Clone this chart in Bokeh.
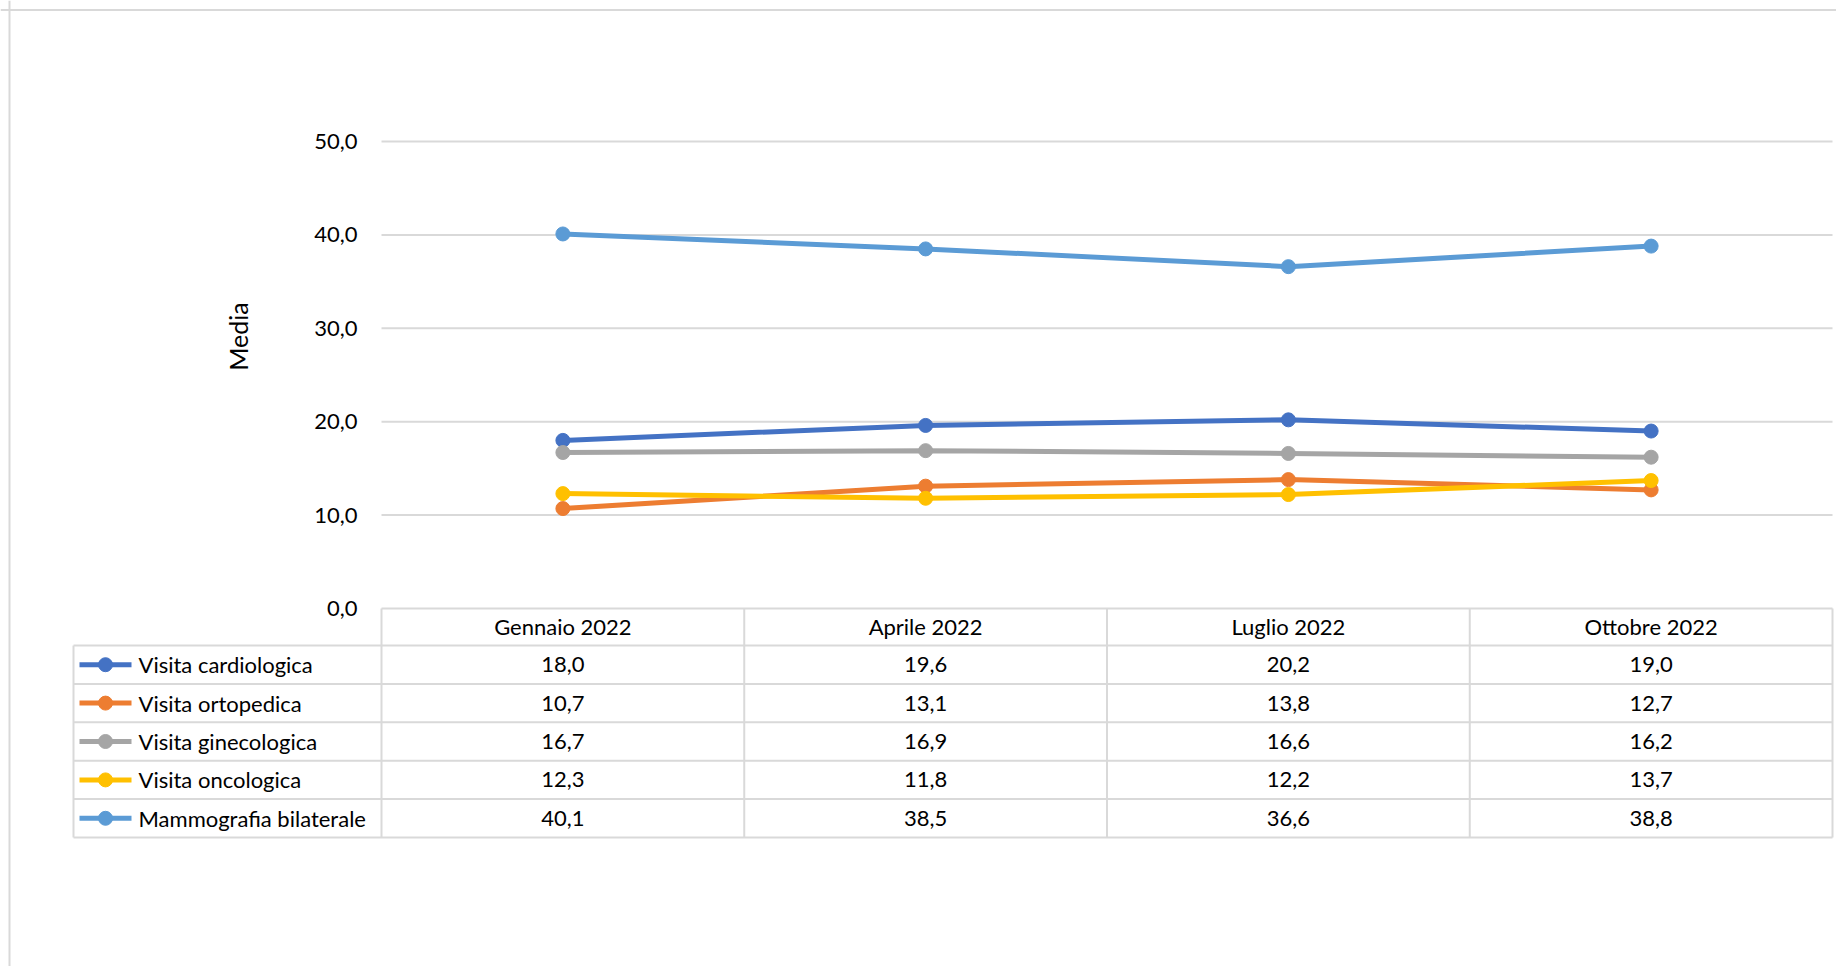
from bokeh.plotting import figure
from bokeh.models import Range1d, FixedTicker, LinearAxis, Span, ColumnDataSource
from bokeh.core.properties import value
from bokeh.embed import file_html
from bokeh.resources import INLINE

# ---------------- data ----------------
categories = ["Gennaio 2022", "Aprile 2022", "Luglio 2022", "Ottobre 2022"]
series_names = ["Visita cardiologica", "Visita ortopedica", "Visita ginecologica",
                "Visita oncologica", "Mammografia bilaterale"]
cardiologica = [18.0, 19.6, 20.2, 19.0]
ortopedica = [10.7, 13.1, 13.8, 12.7]
ginecologica = [16.7, 16.9, 16.6, 16.2]
oncologica = [12.3, 11.8, 12.2, 13.7]
mammografia = [40.1, 38.5, 36.6, 38.8]
y_ticks = [0, 10, 20, 30, 40, 50]
y_tick_labels = ["0,0", "10,0", "20,0", "30,0", "40,0", "50,0"]
y_axis_title = "Media"

series_values = [cardiologica, ortopedica, ginecologica, oncologica, mammografia]
colors = ["#4472C4", "#ED7D31", "#A5A5A5", "#FFC000", "#5B9BD5"]

# ---------------- geometry (canvas pixels) ----------------
W, H = 1836, 966
X0_PX = 381.0        # canvas x of the plot-area left edge
PX_X = 362.75        # pixels per category
Y0_PX = 608.0        # canvas y (from top) of value 0
PX_Y = 9.34          # pixels per value unit
HEADER_PX = 37.0
ROW_PX = 38.4
LEG_LEFT_PX = -308.0  # legend column left edge relative to plot-area left

FONT = "Lato"
FS = "22px"
GRID = "#d9d9d9"
TXT = "#000000"
LW = 5
MS = 14

def dx(px):
    return px / PX_X

def dy(px):
    return px / PX_Y

x_range = Range1d(-X0_PX / PX_X, (W - X0_PX) / PX_X)
y_range = Range1d(-(H - Y0_PX) / PX_Y, Y0_PX / PX_Y)

p = figure(width=W, height=H, x_range=x_range, y_range=y_range,
           output_backend="svg", toolbar_location=None,
           x_axis_type=None, y_axis_type=None, min_border=0,
           background_fill_color="white", border_fill_color="white")
p.outline_line_color = None

ncat = len(categories)
cat_x = [i + 0.5 for i in range(ncat)]

# ---------------- axes ----------------
yaxis = LinearAxis(fixed_location=0, ticker=FixedTicker(ticks=y_ticks),
                   major_label_overrides={t: l for t, l in zip(y_ticks, y_tick_labels)},
                   axis_line_color=None, major_tick_line_color=None,
                   minor_tick_line_color=None, major_tick_out=0, major_tick_in=0,
                   major_label_standoff=24,
                   major_label_text_font=FONT, major_label_text_font_size=FS,
                   major_label_text_color=TXT,
                   axis_label=y_axis_title, axis_label_standoff=58,
                   axis_label_text_font=FONT, axis_label_text_font_size="25px",
                   axis_label_text_font_style="normal", axis_label_text_color=TXT,
                   bounds=(0, 58.2))
p.add_layout(yaxis, "left")

xaxis = LinearAxis(fixed_location=0, ticker=FixedTicker(ticks=cat_x),
                   major_label_overrides={x: c for x, c in zip(cat_x, categories)},
                   axis_line_color=None, major_tick_line_color=None,
                   minor_tick_line_color=None, major_tick_out=0, major_tick_in=0,
                   major_label_standoff=4,
                   major_label_text_font=FONT, major_label_text_font_size=FS,
                   major_label_text_color=TXT)
p.add_layout(xaxis, "below")

# ---------------- gridlines ----------------
p.segment(x0=[0] * len(y_ticks), x1=[ncat] * len(y_ticks), y0=y_ticks, y1=y_ticks,
          line_color=GRID, line_width=2)

# ---------------- data table ----------------
header_h = dy(HEADER_PX)
row_h = dy(ROW_PX)
leg_left = dx(LEG_LEFT_PX)
nrows = len(series_names)
y_bottom = -header_h - nrows * row_h

hy = [-header_h - k * row_h for k in range(nrows + 1)]
p.segment(x0=[leg_left] * len(hy), x1=[ncat] * len(hy), y0=hy, y1=hy,
          line_color=GRID, line_width=2)
vx = list(range(ncat + 1))
p.segment(x0=vx, x1=vx, y0=[0] * len(vx), y1=[y_bottom] * len(vx),
          line_color=GRID, line_width=2)
p.segment(x0=[leg_left], x1=[leg_left], y0=[-header_h], y1=[y_bottom],
          line_color=GRID, line_width=2)

row_centers = [-header_h - (k + 0.5) * row_h for k in range(nrows)]

cx, cy, ct = [], [], []
for k, vals in enumerate(series_values):
    for i, v in enumerate(vals):
        cx.append(cat_x[i])
        cy.append(row_centers[k])
        ct.append(f"{v:.1f}".replace(".", ","))
p.text(x=cx, y=cy, text=ct, text_align="center", text_baseline="middle",
       text_font=value(FONT), text_font_size=FS, text_color=TXT)

for k, name in enumerate(series_names):
    yc = row_centers[k]
    p.line(x=[leg_left + dx(6), leg_left + dx(58)], y=[yc, yc],
           line_color=colors[k], line_width=LW)
    p.scatter(x=[leg_left + dx(32)], y=[yc], marker="circle", size=MS,
              fill_color=colors[k], line_color=colors[k])
p.text(x=[leg_left + dx(65)] * nrows, y=row_centers, text=series_names,
       text_align="left", text_baseline="middle",
       text_font=value(FONT), text_font_size=FS, text_color=TXT)

# ---------------- series ----------------
for k, vals in enumerate(series_values):
    src = ColumnDataSource(dict(x=cat_x, y=vals))
    p.line("x", "y", source=src, line_color=colors[k], line_width=LW)
    p.scatter("x", "y", source=src, marker="circle", size=MS,
              fill_color=colors[k], line_color=colors[k])

# ---------------- chart-area border (left and top) ----------------
p.add_layout(Span(location=x_range.start + dx(9), dimension="height",
                  line_color=GRID, line_width=2))
p.add_layout(Span(location=y_range.end - dy(9.5), dimension="width",
                  line_color=GRID, line_width=2))

open("out.html", "w").write(file_html(p, INLINE))
